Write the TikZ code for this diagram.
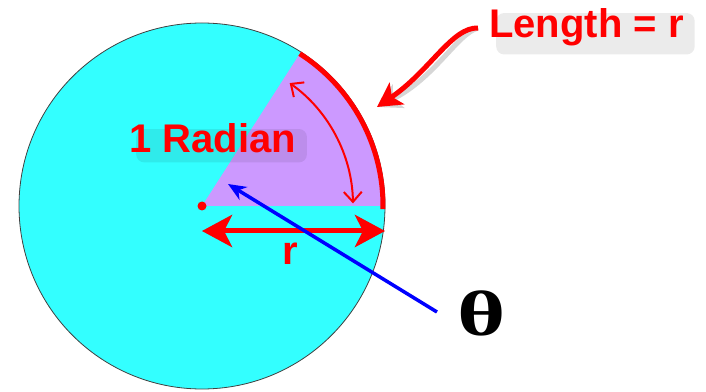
\documentclass[tikz,border=0pt]{standalone}
\usepackage{fontspec}
\setmainfont{Liberation Sans}
\newfontfamily\greekfont{Liberation Serif}
\usepackage{xcolor}
\usetikzlibrary{arrows.meta,positioning}

\definecolor{diskcyan}{RGB}{51,255,255}
\definecolor{wedgepurple}{RGB}{204,153,255}
\definecolor{markred}{RGB}{255,0,0}

\tikzset{
  redlabel/.style={text=markred, font=\bfseries\fontsize{40}{48}\selectfont, inner sep=0pt},
  blurbox/.style={font=\bfseries\fontsize{40}{48}\selectfont, fill=black, fill opacity=0.08,
    rounded corners=8pt, inner sep=2pt},
  shadow/.style={opacity=0.16, shift={(5pt,-7pt)}},
  thickred/.style={draw=markred, line width=5pt},
}

\begin{document}
\begin{tikzpicture}[x=1pt, y=1pt]
\useasboundingbox (0,0) rectangle (706,391);

% disk and the one-radian wedge
\coordinate (O) at (202,185);
\fill[diskcyan, draw=black!75, line width=0.8pt] (O) circle (183);
\fill[wedgepurple] (O) -- ++(0:182.5) arc (0:57.3:182.5) -- cycle;
\draw[thickred] (O) ++(-1:181) arc (-1:57.3:181);
\fill[markred] (O) circle (4.5);

% labels (soft shadow first)
\node[blurbox, anchor=base west] at (136,231) {\phantom{1 Radian}};
\node[redlabel, anchor=base west] (rad) at (129,238) {1 Radian};
\node[blurbox, anchor=base west] at (496,347) {\phantom{Length = r}};
\node[redlabel, anchor=base west] (len) at (489,353) {Length = r};
\node[redlabel, anchor=base] (r) at (290,126) {r};
\node[font=\greekfont\bfseries\fontsize{64}{64}\selectfont, inner sep=0pt] (theta) at (482,78) {\scalebox{1.45}[1]{θ}};

% arrows
\coordinate (rleft) at (202,160);
\coordinate (rright) at (385,160);
\draw[thickred, draw=black, shadow, {Stealth[length=30pt,width=32pt,inset=8pt]}-{Stealth[length=30pt,width=32pt,inset=8pt]}] (rleft) -- (rright);
\draw[thickred, {Stealth[length=30pt,width=32pt,inset=8pt]}-{Stealth[length=30pt,width=32pt,inset=8pt]}] (rleft) -- (rright);

\draw[markred, line width=2pt, {Straight Barb[length=10pt,width=18pt]}-{Straight Barb[length=10pt,width=18pt]}]
  (O) ++(54.5:151) arc (54.5:1:151);

\coordinate (lenstart) at (478,363);
\coordinate (lentip) at (377,284);
\draw[thickred, draw=black, shadow, -{Stealth[length=24pt,width=26pt,inset=6pt]}]
  (lenstart) .. controls (452,364) and (430,320) .. (lentip);
\draw[thickred, -{Stealth[length=24pt,width=26pt,inset=6pt]}]
  (lenstart) .. controls (452,364) and (430,320) .. (lentip);

\coordinate (thtail) at (437,79);
\coordinate (thtip) at (228,207);
\draw[blue, line width=3.5pt, -{Stealth[length=18pt,width=15pt]}] (thtail) -- (thtip);
\end{tikzpicture}
\end{document}
